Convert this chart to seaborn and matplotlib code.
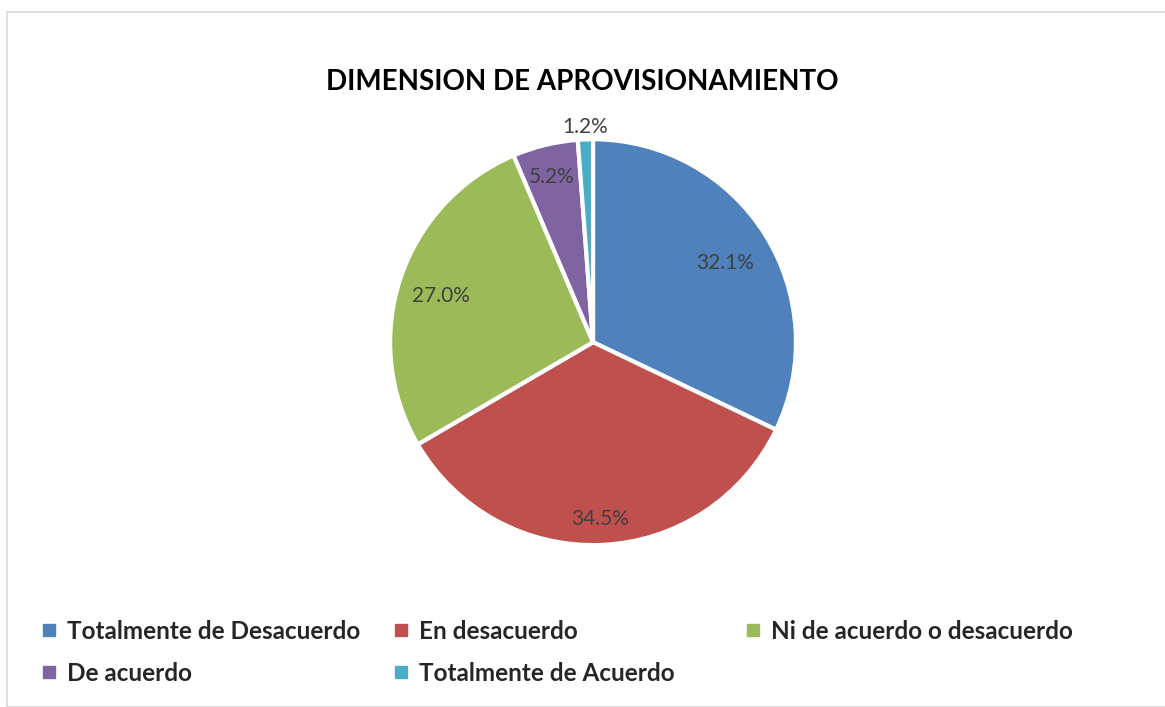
import numpy as np
import matplotlib
matplotlib.use("Agg")
import matplotlib.pyplot as plt
import seaborn as sns
from matplotlib.lines import Line2D
from matplotlib.patches import Rectangle

categories = ["Totalmente de Desacuerdo", "En desacuerdo", "Ni de acuerdo o desacuerdo",
              "De acuerdo", "Totalmente de Acuerdo"]
values = [32.1, 34.5, 27.0, 5.2, 1.2]
title = "DIMENSION DE APROVISIONAMIENTO"

sns.set_theme(style="white")
plt.rcParams['font.family'] = ['Lato', 'DejaVu Sans']
colors = sns.color_palette(["#4F81BD", "#C0504D", "#9BBB59", "#8064A2", "#4BACC6"])

fig = plt.figure(figsize=(11.65, 7.07), dpi=100)
fig.patches.append(Rectangle((7 / 1165, 0), 1, 1 - 12 / 707, transform=fig.transFigure,
                             fill=False, edgecolor="#d9d9d9", linewidth=1.2))

ax = fig.add_axes([0.3348, 0.229, 0.3485, 0.574])
wedges, _ = ax.pie(values, colors=colors, startangle=90, counterclock=False,
                   wedgeprops=dict(edgecolor="white", linewidth=3))
ax.set_xlim(-1, 1)
ax.set_ylim(-1, 1)
ax.set_aspect("equal")

# label distances (fraction of radius), mimicking Excel best-fit placement
dists = [0.77, 0.85, 0.79, 0.86, 1.08]
for w, v, d in zip(wedges, values, dists):
    ang = np.deg2rad((w.theta1 + w.theta2) / 2)
    ax.text(d * np.cos(ang), d * np.sin(ang) - 0.02, f"{v:.1f}%", ha="center", va="center",
            fontsize=15, color="#404040")

fig.text(0.5, 1 - 82 / 707, title, ha="center", va="center", fontsize=20,
         fontweight="bold", color="black")

# legend, row-major in three evenly spaced columns
col_x = [40 / 1165, 392 / 1165, 744 / 1165]
groups = [[0, 3], [1, 4], [2]]
for cx, idx in zip(col_x, groups):
    handles = [Line2D([], [], marker="s", linestyle="none", markersize=9,
                      markerfacecolor=colors[i], markeredgecolor=colors[i]) for i in idx]
    fig.legend(handles, [categories[i] for i in idx], loc="upper left",
               bbox_to_anchor=(cx, 1 - 620 / 707), frameon=False,
               prop=dict(weight="bold", size=17.5), handlelength=0.7, handletextpad=0.4,
               labelspacing=0.78, borderaxespad=0, borderpad=0)

fig.savefig("out.png", dpi=100)
